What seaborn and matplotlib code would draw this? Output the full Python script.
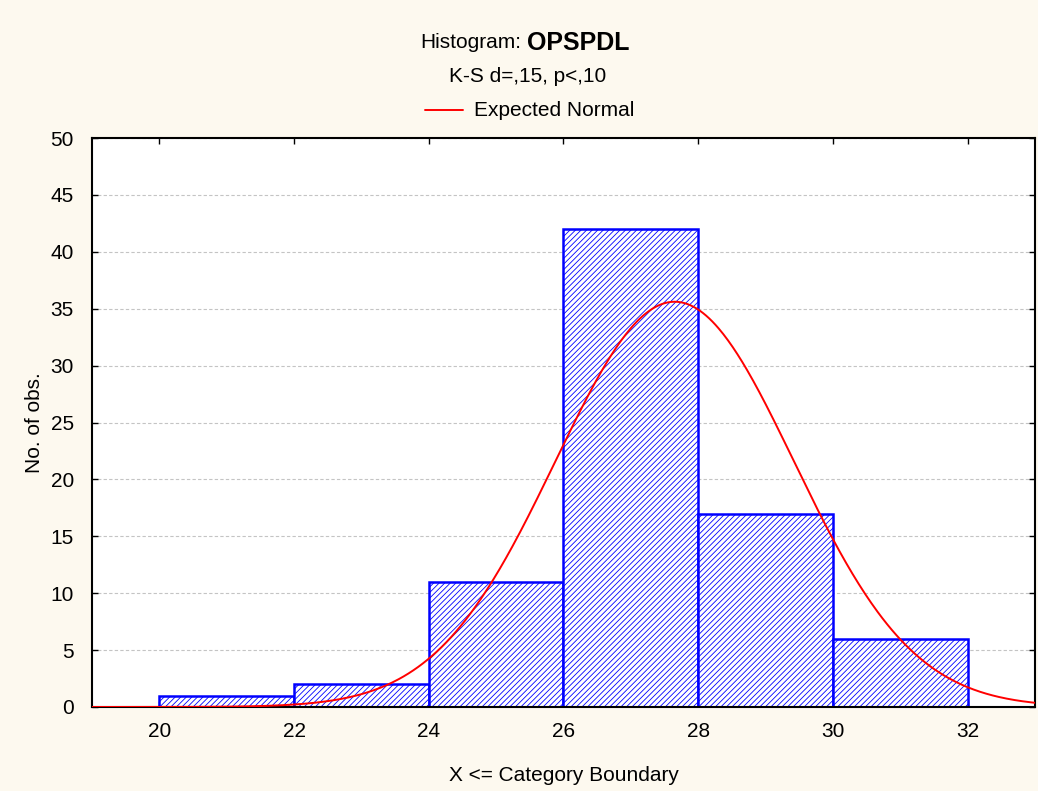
import numpy as np
import pandas as pd
import matplotlib
matplotlib.use("Agg")
import matplotlib.pyplot as plt
from matplotlib.lines import Line2D
import seaborn as sns

# Category boundaries and observed counts per category
bin_edges = [20, 22, 24, 26, 28, 30, 32]
counts = [1, 2, 11, 42, 17, 6]

# Parameters of the fitted normal distribution
n_obs = 79
fit_mean = 27.65
fit_sd = 1.77

x_ticks = [20, 22, 24, 26, 28, 30, 32]
y_ticks = [0, 5, 10, 15, 20, 25, 30, 35, 40, 45, 50]

sns.set_theme(style="white")
plt.rcParams["font.family"] = ["Liberation Sans", "DejaVu Sans"]
plt.rcParams["hatch.linewidth"] = 0.6
plt.rcParams["hatch.color"] = "#2020ff"

FS = 15
bg = "#fdf9ef"
fig = plt.figure(figsize=(10.38, 7.91), dpi=100, facecolor=bg)
ax = fig.add_axes([92 / 1038, 1 - 707 / 791, (1035 - 92) / 1038, (707 - 138) / 791])
ax.set_facecolor("white")

centers = [(a + b) / 2 for a, b in zip(bin_edges[:-1], bin_edges[1:])]
df = pd.DataFrame({"x": centers, "w": counts})
sns.histplot(data=df, x="x", weights="w", bins=bin_edges, ax=ax,
             stat="count", element="bars", fill=True,
             facecolor="white", edgecolor="#0000ff", linewidth=1.8,
             hatch="//////", alpha=1.0, zorder=2)

# Expected normal curve scaled to counts per category width
xs = np.linspace(19, 33, 600)
width = bin_edges[1] - bin_edges[0]
ys = n_obs * width * np.exp(-0.5 * ((xs - fit_mean) / fit_sd) ** 2) / (fit_sd * np.sqrt(2 * np.pi))
sns.lineplot(x=xs, y=ys, ax=ax, color="#ff0000", linewidth=1.4, zorder=3, sort=False)

ax.set_xlim(19, 33)
ax.set_ylim(0, 50)
ax.set_xticks(x_ticks)
ax.set_yticks(y_ticks)
ax.set_xticklabels([str(t) for t in x_ticks], fontsize=FS)
ax.set_yticklabels([str(t) for t in y_ticks], fontsize=FS)
ax.yaxis.grid(True, linestyle=(0, (3, 2)), color="#c4c4c4", linewidth=0.8, zorder=0)
ax.xaxis.grid(False)
ax.set_axisbelow(True)

for s in ax.spines.values():
    s.set_color("black")
    s.set_linewidth(1.5)
    s.set_visible(True)

ax.tick_params(axis="both", which="both", length=4, width=1, color="black",
               direction="in", top=True, right=True, bottom=True, left=True,
               labelcolor="black")
ax.tick_params(axis="x", pad=11)
ax.tick_params(axis="y", pad=13)

ax.set_xlabel("X <= Category Boundary", fontsize=FS, labelpad=18, color="black")
ax.set_ylabel("No. of obs.", fontsize=FS, labelpad=5, color="black")

# Title block
fig.text(521 / 1038, 1 - 43 / 791, "Histogram:", ha="right", va="center",
         fontsize=FS, color="black")
fig.text(527 / 1038, 1 - 43 / 791, "OPSPDL", ha="left", va="center",
         fontsize=18, fontweight="bold", color="black")
fig.text(528 / 1038, 1 - 77 / 791, "K-S d=,15, p<,10", ha="center", va="center",
         fontsize=FS, color="black")
fig.add_artist(Line2D([425 / 1038, 463 / 1038], [1 - 110 / 791, 1 - 110 / 791],
                      color="#ff0000", linewidth=1.4, transform=fig.transFigure))
fig.text(474 / 1038, 1 - 111 / 791, "Expected Normal", ha="left", va="center",
         fontsize=FS, color="black")

fig.savefig("out.png", dpi=100, facecolor=bg)
